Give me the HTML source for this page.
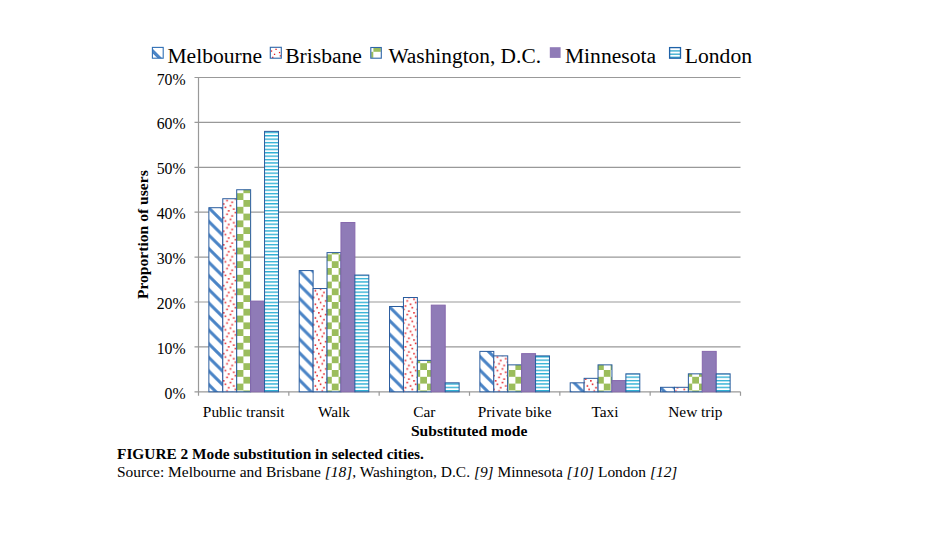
<!DOCTYPE html>
<html><head><meta charset="utf-8">
<style>
html,body{margin:0;padding:0;background:#fff;}
body{width:940px;height:540px;overflow:hidden;position:relative;}
svg{position:absolute;left:0;top:0;}
text{font-family:"Liberation Serif",serif;fill:#000;}
</style></head><body>
<svg width="940" height="540" viewBox="0 0 940 540">
<defs>
<pattern id="pMel" patternUnits="userSpaceOnUse" width="13.6" height="13.6" x="6.2" y="5.2">
<rect width="13.6" height="13.6" fill="#fff"/>
<path d="M-3,-3 L16.6,16.6 M-3,10.6 L3,16.6 M10.6,-3 L16.6,3" stroke="#4a84c6" stroke-width="3.0"/>
</pattern>
<pattern id="pBri" patternUnits="userSpaceOnUse" width="13.6" height="13.6" x="5.2" y="-0.8">
<rect width="13.6" height="13.6" fill="#fff"/>
<g fill="#e3161c"><rect x="0.07" y="0.07" width="1.55" height="1.55"/><rect x="6.88" y="1.77" width="1.55" height="1.55"/><rect x="1.77" y="3.47" width="1.55" height="1.55"/><rect x="10.27" y="5.17" width="1.55" height="1.55"/><rect x="5.17" y="6.88" width="1.55" height="1.55"/><rect x="11.97" y="8.57" width="1.55" height="1.55"/><rect x="3.47" y="10.27" width="1.55" height="1.55"/><rect x="8.57" y="11.97" width="1.55" height="1.55"/></g></pattern>
<pattern id="pWas" patternUnits="userSpaceOnUse" width="13.6" height="13.6" x="5.4" y="2.8">
<rect width="13.6" height="13.6" fill="#fff"/>
<rect x="0" y="0" width="6.8" height="6.8" fill="#9bbd5c"/>
<rect x="6.8" y="6.8" width="6.8" height="6.8" fill="#9bbd5c"/>
</pattern>
<pattern id="pLon" patternUnits="userSpaceOnUse" width="13.6" height="3.4" x="0" y="2.5">
<rect width="13.6" height="3.4" fill="#fff"/>
<rect y="0" width="13.6" height="1.35" fill="#2aaed3"/>
</pattern>
</defs>

<line x1="194.5" y1="391.80" x2="740.5" y2="391.80" stroke="#999" stroke-width="1.2"/>
<text x="185.6" y="398.80" font-size="16.5" text-anchor="end" textLength="21.03" lengthAdjust="spacingAndGlyphs">0%</text>
<line x1="194.5" y1="346.90" x2="740.5" y2="346.90" stroke="#999" stroke-width="1.2"/>
<text x="185.6" y="353.90" font-size="16.5" text-anchor="end" textLength="28.92" lengthAdjust="spacingAndGlyphs">10%</text>
<line x1="194.5" y1="302.00" x2="740.5" y2="302.00" stroke="#999" stroke-width="1.2"/>
<text x="185.6" y="309.00" font-size="16.5" text-anchor="end" textLength="28.92" lengthAdjust="spacingAndGlyphs">20%</text>
<line x1="194.5" y1="257.10" x2="740.5" y2="257.10" stroke="#999" stroke-width="1.2"/>
<text x="185.6" y="264.10" font-size="16.5" text-anchor="end" textLength="28.92" lengthAdjust="spacingAndGlyphs">30%</text>
<line x1="194.5" y1="212.20" x2="740.5" y2="212.20" stroke="#999" stroke-width="1.2"/>
<text x="185.6" y="219.20" font-size="16.5" text-anchor="end" textLength="28.92" lengthAdjust="spacingAndGlyphs">40%</text>
<line x1="194.5" y1="167.30" x2="740.5" y2="167.30" stroke="#999" stroke-width="1.2"/>
<text x="185.6" y="174.30" font-size="16.5" text-anchor="end" textLength="28.92" lengthAdjust="spacingAndGlyphs">50%</text>
<line x1="194.5" y1="122.40" x2="740.5" y2="122.40" stroke="#999" stroke-width="1.2"/>
<text x="185.6" y="129.40" font-size="16.5" text-anchor="end" textLength="28.92" lengthAdjust="spacingAndGlyphs">60%</text>
<line x1="194.5" y1="77.50" x2="740.5" y2="77.50" stroke="#999" stroke-width="1.2"/>
<text x="185.6" y="84.50" font-size="16.5" text-anchor="end" textLength="28.92" lengthAdjust="spacingAndGlyphs">70%</text>
<line x1="198.5" y1="77.50" x2="198.5" y2="395.8" stroke="#999" stroke-width="1.2"/>
<line x1="288.83" y1="391.8" x2="288.83" y2="395.8" stroke="#999" stroke-width="1.2"/>
<line x1="379.17" y1="391.8" x2="379.17" y2="395.8" stroke="#999" stroke-width="1.2"/>
<line x1="469.50" y1="391.8" x2="469.50" y2="395.8" stroke="#999" stroke-width="1.2"/>
<line x1="559.83" y1="391.8" x2="559.83" y2="395.8" stroke="#999" stroke-width="1.2"/>
<line x1="650.17" y1="391.8" x2="650.17" y2="395.8" stroke="#999" stroke-width="1.2"/>
<line x1="740.50" y1="391.8" x2="740.50" y2="395.8" stroke="#999" stroke-width="1.2"/>
<rect x="208.87" y="207.71" width="13.92" height="184.09" fill="url(#pMel)" stroke="#295c9e" stroke-width="1"/>
<rect x="222.79" y="198.73" width="13.92" height="193.07" fill="url(#pBri)" stroke="#295c9e" stroke-width="1"/>
<rect x="236.71" y="189.75" width="13.92" height="202.05" fill="url(#pWas)" stroke="#295c9e" stroke-width="1"/>
<rect x="250.63" y="301.10" width="13.92" height="90.70" fill="#8f7bb7" stroke="#8668ad" stroke-width="1"/>
<rect x="264.55" y="131.38" width="13.92" height="260.42" fill="url(#pLon)" stroke="#295c9e" stroke-width="1"/>
<rect x="299.20" y="270.57" width="13.92" height="121.23" fill="url(#pMel)" stroke="#295c9e" stroke-width="1"/>
<rect x="313.12" y="288.53" width="13.92" height="103.27" fill="url(#pBri)" stroke="#295c9e" stroke-width="1"/>
<rect x="327.04" y="252.61" width="13.92" height="139.19" fill="url(#pWas)" stroke="#295c9e" stroke-width="1"/>
<rect x="340.96" y="222.53" width="13.92" height="169.27" fill="#8f7bb7" stroke="#8668ad" stroke-width="1"/>
<rect x="354.88" y="275.06" width="13.92" height="116.74" fill="url(#pLon)" stroke="#295c9e" stroke-width="1"/>
<rect x="389.53" y="306.49" width="13.92" height="85.31" fill="url(#pMel)" stroke="#295c9e" stroke-width="1"/>
<rect x="403.45" y="297.51" width="13.92" height="94.29" fill="url(#pBri)" stroke="#295c9e" stroke-width="1"/>
<rect x="417.37" y="360.37" width="13.92" height="31.43" fill="url(#pWas)" stroke="#295c9e" stroke-width="1"/>
<rect x="431.29" y="305.14" width="13.92" height="86.66" fill="#8f7bb7" stroke="#8668ad" stroke-width="1"/>
<rect x="445.21" y="382.82" width="13.92" height="8.98" fill="url(#pLon)" stroke="#295c9e" stroke-width="1"/>
<rect x="479.87" y="351.39" width="13.92" height="40.41" fill="url(#pMel)" stroke="#295c9e" stroke-width="1"/>
<rect x="493.79" y="355.88" width="13.92" height="35.92" fill="url(#pBri)" stroke="#295c9e" stroke-width="1"/>
<rect x="507.71" y="364.86" width="13.92" height="26.94" fill="url(#pWas)" stroke="#295c9e" stroke-width="1"/>
<rect x="521.63" y="353.63" width="13.92" height="38.16" fill="#8f7bb7" stroke="#8668ad" stroke-width="1"/>
<rect x="535.55" y="355.88" width="13.92" height="35.92" fill="url(#pLon)" stroke="#295c9e" stroke-width="1"/>
<rect x="570.20" y="382.82" width="13.92" height="8.98" fill="url(#pMel)" stroke="#295c9e" stroke-width="1"/>
<rect x="584.12" y="378.33" width="13.92" height="13.47" fill="url(#pBri)" stroke="#295c9e" stroke-width="1"/>
<rect x="598.04" y="364.86" width="13.92" height="26.94" fill="url(#pWas)" stroke="#295c9e" stroke-width="1"/>
<rect x="611.96" y="380.57" width="13.92" height="11.23" fill="#8f7bb7" stroke="#8668ad" stroke-width="1"/>
<rect x="625.88" y="373.84" width="13.92" height="17.96" fill="url(#pLon)" stroke="#295c9e" stroke-width="1"/>
<rect x="660.53" y="387.31" width="13.92" height="4.49" fill="url(#pMel)" stroke="#295c9e" stroke-width="1"/>
<rect x="674.45" y="387.31" width="13.92" height="4.49" fill="url(#pBri)" stroke="#295c9e" stroke-width="1"/>
<rect x="688.37" y="373.84" width="13.92" height="17.96" fill="url(#pWas)" stroke="#295c9e" stroke-width="1"/>
<rect x="702.29" y="351.39" width="13.92" height="40.41" fill="#8f7bb7" stroke="#8668ad" stroke-width="1"/>
<rect x="716.21" y="373.84" width="13.92" height="17.96" fill="url(#pLon)" stroke="#295c9e" stroke-width="1"/>
<text x="243.67" y="417" font-size="15.4" text-anchor="middle">Public transit</text>
<text x="334.00" y="417" font-size="15.4" text-anchor="middle">Walk</text>
<text x="424.33" y="417" font-size="15.4" text-anchor="middle">Car</text>
<text x="514.67" y="417" font-size="15.4" text-anchor="middle">Private bike</text>
<text x="605.00" y="417" font-size="15.4" text-anchor="middle">Taxi</text>
<text x="695.33" y="417" font-size="15.4" text-anchor="middle">New trip</text>
<text x="469.2" y="435.5" font-size="15.6" font-weight="bold" text-anchor="middle">Substituted mode</text>
<text transform="translate(148,234.7) rotate(-90)" font-size="15.6" font-weight="bold" text-anchor="middle">Proportion of users</text>
<clipPath id="cMel"><rect x="152.4" y="47.4" width="10.8" height="10.8"/></clipPath>
<g clip-path="url(#cMel)"><path d="M150,46 L165,61 L165,65.7 L150,50.7 Z M159.8,45 L166,51.2 L166,45 Z" fill="#4a84c6"/></g>
<rect x="152.4" y="47.4" width="10.8" height="10.8" fill="none" stroke="#3170b5" stroke-width="1.1"/>
<g fill="#e41e24"><rect x="275.4" y="48.7" width="1.3" height="1.3"/><rect x="270.9" y="50.4" width="1.3" height="1.3"/><rect x="278.9" y="51.9" width="1.3" height="1.3"/><rect x="273.9" y="53.7" width="1.3" height="1.3"/><rect x="279.7" y="55.2" width="1.3" height="1.3"/><rect x="272.1" y="56.7" width="1.3" height="1.3"/></g>
<rect x="270.3" y="47.3" width="11" height="10.9" fill="none" stroke="#2e66a8" stroke-width="1.1"/>
<rect x="373.4" y="48" width="7.4" height="3.8" fill="#9bbd5c"/><rect x="371.2" y="51.8" width="2.1" height="6" fill="#9bbd5c"/>
<rect x="370.8" y="47.5" width="10.5" height="10.7" fill="none" stroke="#2e66a8" stroke-width="1.1"/>
<rect x="549.8" y="47.2" width="10.8" height="10.7" fill="#8f7bb7"/>
<g fill="#3fb0d0"><rect x="670" y="50.2" width="10.5" height="1.4"/><rect x="670" y="53.5" width="10.5" height="1.4"/><rect x="670" y="56.6" width="10.5" height="1.4"/></g>
<rect x="669.6" y="47.6" width="10.9" height="10.6" fill="none" stroke="#1f62a8" stroke-width="1.3"/>
<g font-size="21.6">
<text x="167.4" y="62.5">Melbourne</text>
<text x="285.2" y="62.5">Brisbane</text>
<text x="388.4" y="62.5" textLength="152.6" lengthAdjust="spacingAndGlyphs">Washington, D.C.</text>
<text x="564.9" y="62.5">Minnesota</text>
<text x="684.8" y="62.5">London</text>
</g>
<text x="117" y="459" font-size="15.4" font-weight="bold" textLength="306.8" lengthAdjust="spacingAndGlyphs">FIGURE 2 Mode substitution in selected cities.</text>
<text x="117" y="476.5" font-size="15.5" textLength="560.4" lengthAdjust="spacingAndGlyphs">Source: Melbourne and Brisbane <tspan font-style="italic">[18]</tspan>, Washington, D.C. <tspan font-style="italic">[9]</tspan> Minnesota <tspan font-style="italic">[10]</tspan> London <tspan font-style="italic">[12]</tspan></text>
</svg></body></html>
